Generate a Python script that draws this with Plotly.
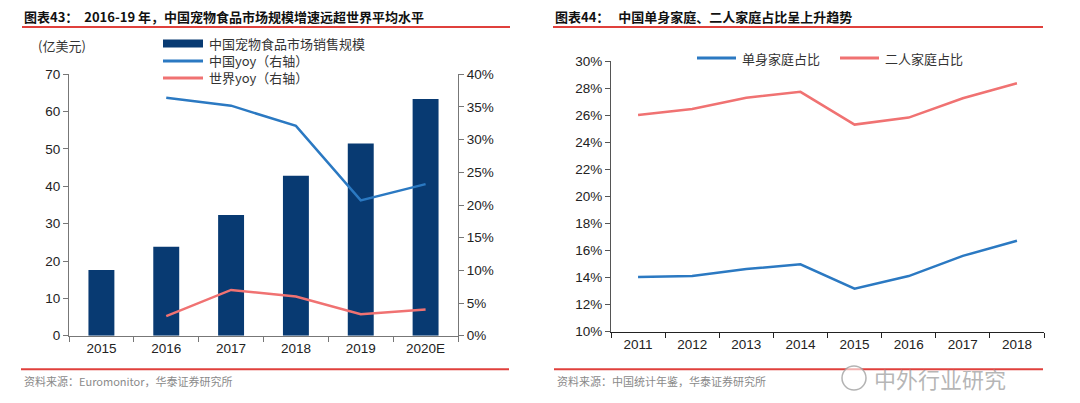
import plotly.graph_objects as go

# ---- data: left chart ----
years_left = ["2015", "2016", "2017", "2018", "2019", "2020E"]
market_size = [17.6, 23.8, 32.3, 42.8, 51.5, 63.4]
china_yoy = [None, 0.364, 0.352, 0.321, 0.207, 0.232]
world_yoy = [None, 0.030, 0.070, 0.060, 0.033, 0.040]

# ---- data: right chart ----
years_right = ["2011", "2012", "2013", "2014", "2015", "2016", "2017", "2018"]
single_share = [0.1404, 0.1411, 0.1463, 0.1498, 0.1318, 0.1411, 0.1560, 0.1672]
couple_share = [0.2601, 0.2646, 0.2729, 0.2772, 0.2530, 0.2582, 0.2725, 0.2836]

NAVY = "#083a72"
BLUE = "#2b79c2"
RED = "#f07272"
CJK = "Noto Sans CJK SC"
LAT = "Liberation Sans, Arial"

fig = go.Figure()

fig.add_trace(go.Bar(x=years_left, y=market_size, marker_color=NAVY, marker_line_width=0,
                     xaxis="x", yaxis="y", showlegend=False))
fig.add_trace(go.Scatter(x=years_left, y=china_yoy, mode="lines", line=dict(color=BLUE, width=2.5),
                         xaxis="x", yaxis="y2", showlegend=False))
fig.add_trace(go.Scatter(x=years_left, y=world_yoy, mode="lines", line=dict(color=RED, width=2.5),
                         xaxis="x", yaxis="y2", showlegend=False))

fig.add_trace(go.Scatter(x=years_right, y=single_share, mode="lines", line=dict(color=BLUE, width=2.5),
                         xaxis="x3", yaxis="y3", showlegend=False))
fig.add_trace(go.Scatter(x=years_right, y=couple_share, mode="lines", line=dict(color=RED, width=2.5),
                         xaxis="x3", yaxis="y3", showlegend=False))

W, H = 1080, 403
def px(x):
    return x / W
def py(y):
    return 1 - y / H

tickfont = dict(family=LAT, size=13.5, color="#222")

fig.update_layout(
    width=W, height=H, margin=dict(l=0, r=0, t=0, b=0, autoexpand=False),
    paper_bgcolor="white", plot_bgcolor="white",
    bargap=0.6,
    xaxis=dict(domain=[px(69), px(458)], type="category", range=[-0.5, 5.5], automargin=False,
               showline=True, linecolor="#777", linewidth=1, ticks="outside", tickson="boundaries",
               ticklen=5, tickcolor="#777", tickfont=tickfont, showgrid=False, anchor="y"),
    yaxis=dict(domain=[py(335.7), py(74.3)], range=[0, 70], dtick=10, showline=True, linecolor="#777",
               ticks="outside", ticklen=5, tickcolor="#777", tickfont=tickfont, showgrid=False,
               zeroline=False, anchor="x", automargin=False),
    yaxis2=dict(overlaying="y", side="right", range=[0, 0.4], dtick=0.05, tickformat=".0%",
                showline=True, linecolor="#777", ticks="outside", ticklen=5, tickcolor="#777",
                tickfont=tickfont, showgrid=False, zeroline=False, anchor="x", automargin=False),
    xaxis3=dict(domain=[px(611), px(1044)], type="category", range=[-0.5, 7.5], automargin=False,
                showline=True, linecolor="#222", linewidth=1.2, ticks="outside", tickson="boundaries",
                ticklen=5, tickcolor="#222", tickfont=tickfont, showgrid=False, anchor="y3"),
    yaxis3=dict(domain=[py(331.7), py(61)], range=[0.10, 0.30], dtick=0.02, tickformat=".0%",
                showline=True, linecolor="#555", ticks="outside", ticklen=5, tickcolor="#555",
                tickfont=tickfont, showgrid=False, zeroline=False, anchor="x3", automargin=False),
)

shapes = []
annotations = []

def red_line(x0, x1, y):
    shapes.append(dict(type="line", xref="paper", yref="paper", x0=px(x0), x1=px(x1), y0=py(y), y1=py(y),
                       line=dict(color="#e0403c", width=2)))

red_line(22, 510, 27)
red_line(553, 1043, 27)
red_line(21, 509, 369.3)
red_line(554, 1043, 369.3)

def text(x, y, s, size=13, color="#222", family=CJK, xanchor="left", bold=False):
    if bold:
        s = "<b>" + s + "</b>"
    annotations.append(dict(xref="paper", yref="paper", x=px(x), y=py(y), text=s, showarrow=False,
                            xanchor=xanchor, yanchor="middle", font=dict(family=family, size=size, color=color)))

text(22, 16, "图表43：  2016-19 年，中国宠物食品市场规模增速远超世界平均水平", size=13, color="#111", bold=True)
text(553, 16, "图表44：   中国单身家庭、二人家庭占比呈上升趋势", size=13, color="#111", bold=True)
text(22, 381, "资料来源：Euromonitor，华泰证券研究所", size=11, color="#8a8a8a")
text(555, 381, "资料来源：中国统计年鉴，华泰证券研究所", size=11, color="#8a8a8a")
text(36, 45, "(亿美元)", size=13, color="#333")

# left legend
shapes.append(dict(type="rect", xref="paper", yref="paper", x0=px(163), x1=px(203), y0=py(47.5), y1=py(39.5),
                   fillcolor=NAVY, line=dict(width=0)))
shapes.append(dict(type="line", xref="paper", yref="paper", x0=px(163), x1=px(203), y0=py(61), y1=py(61),
                   line=dict(color=BLUE, width=3)))
shapes.append(dict(type="line", xref="paper", yref="paper", x0=px(163), x1=px(203), y0=py(78), y1=py(78),
                   line=dict(color=RED, width=3)))
text(207, 43.5, "中国宠物食品市场销售规模", size=13, color="#333")
text(207, 60.5, "中国yoy（右轴）", size=13, color="#333")
text(207, 77.5, "世界yoy（右轴）", size=13, color="#333")

# right legend
shapes.append(dict(type="line", xref="paper", yref="paper", x0=px(697), x1=px(736), y0=py(58), y1=py(58),
                   line=dict(color=BLUE, width=3)))
shapes.append(dict(type="line", xref="paper", yref="paper", x0=px(840), x1=px(879), y0=py(58), y1=py(58),
                   line=dict(color=RED, width=3)))
text(740, 58, "单身家庭占比", size=13, color="#333")
text(883, 58, "二人家庭占比", size=13, color="#333")

# watermark (kept clear of the tick labels)
shapes.append(dict(type="circle", xref="paper", yref="paper", x0=px(842), x1=px(866), y0=py(390), y1=py(366),
                   line=dict(color="rgba(160,160,160,0.8)", width=1.5), fillcolor="rgba(255,255,255,0.6)"))
text(872, 378, "中外行业研究", size=22, color="rgba(150,150,150,0.7)")

fig.update_layout(shapes=shapes, annotations=annotations)

fig.write_html("out.html", config={"displayModeBar": False},
               post_script="document.body.style.margin='0';document.body.style.padding='0';")
